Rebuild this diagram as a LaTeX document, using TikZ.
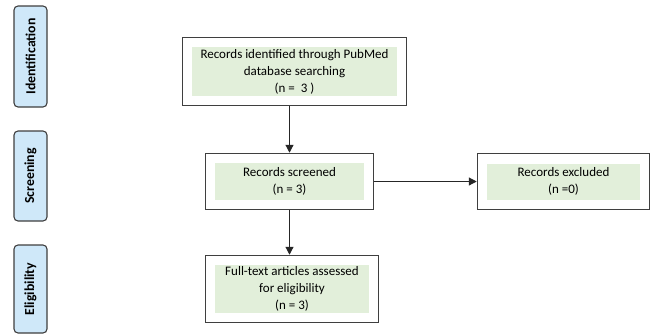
\documentclass[tikz,border=0pt]{standalone}
\usepackage{fontspec}
\setmainfont{Carlito}
\usetikzlibrary{arrows.meta,fit}
\definecolor{stagefill}{HTML}{CFE8F9}
\definecolor{textfill}{HTML}{E2EFDA}
\definecolor{edge}{HTML}{3F3F3F}
\tikzset{
  stage/.style={draw=edge,line width=1.1pt,rounded corners=4pt,fill=stagefill,
    rotate=90,minimum height=33pt,inner sep=0pt,
    font=\fontsize{13.8}{15}\selectfont\bfseries},
  txtbox/.style={fill=textfill,align=center,inner sep=0pt,
    font=\fontsize{13}{17}\selectfont},
  outbox/.style={draw=edge,line width=1.1pt,inner sep=9.5pt},
  flow/.style={draw=black!85,line width=1.2pt,-{Triangle[length=8pt,width=8pt]}}
}
\begin{document}
\begin{tikzpicture}[x=1pt,y=-1pt]
  \useasboundingbox (0,0) rectangle (651,335);
  % stages
  \node[stage,minimum width=101pt] (ident) at (30.5,56.5) {Identification};
  \node[stage,minimum width=90pt] (screen) at (30.5,176) {Screening};
  \node[stage,minimum width=88pt] (elig) at (30.5,289) {Eligibility};
  % records
  \node[txtbox,minimum width=205pt,minimum height=49pt] (idtxt) at (294.5,71.5)
    {Records identified through PubMed\\database searching\\(n =\ \ 3 )};
  \node[outbox,fit=(idtxt)] (idbox) {};
  \node[txtbox,minimum width=149pt,minimum height=37pt] (scrtxt) at (289.5,181.5)
    {Records screened\\(n = 3)};
  \node[outbox,fit=(scrtxt)] (scrbox) {};
  \node[txtbox,minimum width=153pt,minimum height=36pt] (exctxt) at (563.5,181.5)
    {Records excluded\\(n =0)};
  \node[outbox,fit=(exctxt)] (excbox) {};
  \node[txtbox,minimum width=154pt,minimum height=48pt] (fttxt) at (292,289)
    {Full-text articles assessed\\for eligibility\\(n = 3)};
  \node[outbox,fit=(fttxt)] (ftbox) {};
  % arrows
  \draw[flow] (scrbox.north |- idbox.south) -- (scrbox.north);
  \draw[flow] (scrbox) -- (excbox);
  \draw[flow] (scrbox.south) -- (ftbox.north -| scrbox.south);
\end{tikzpicture}
\end{document}
